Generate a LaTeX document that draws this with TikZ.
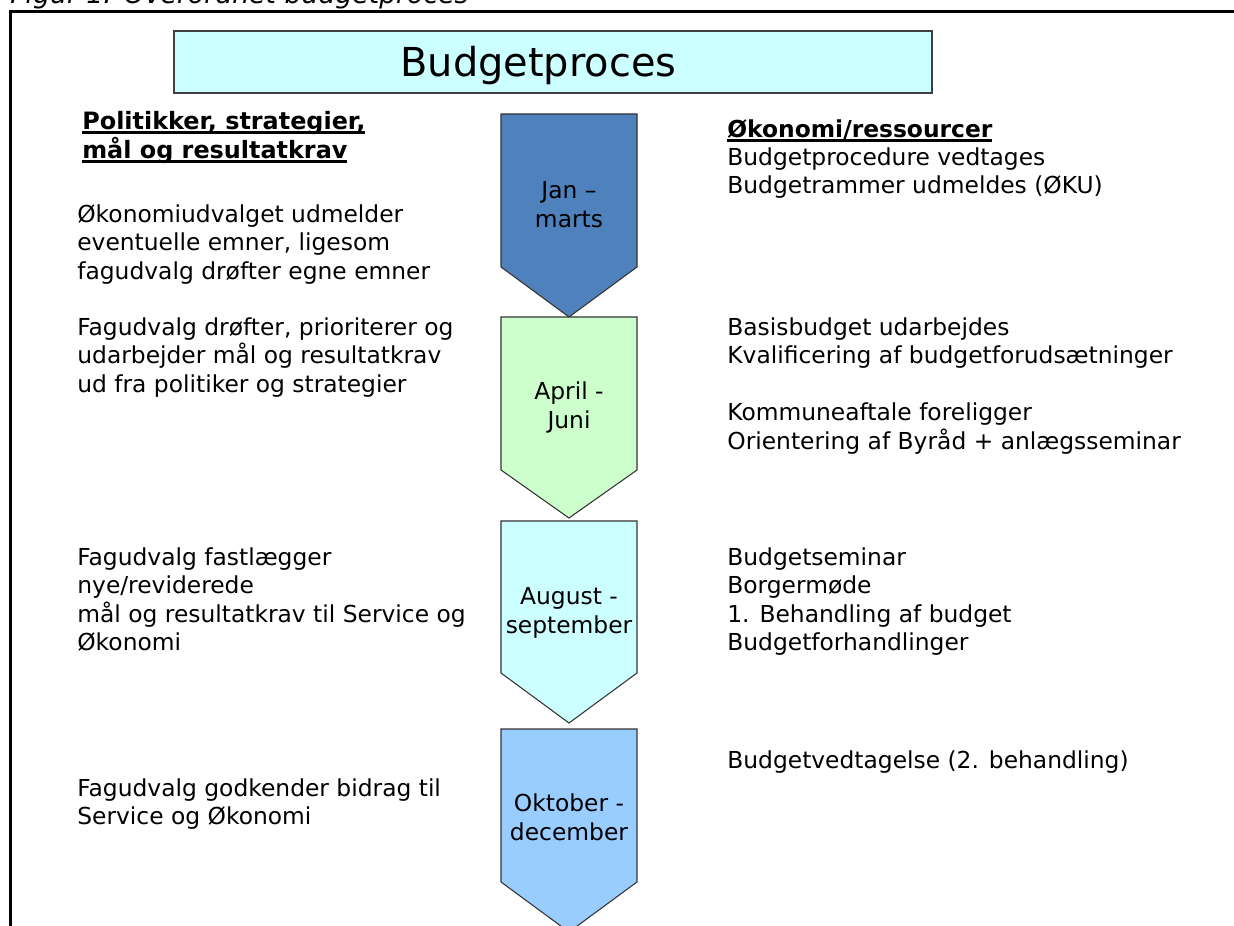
\documentclass[tikz,border=0pt]{standalone}
\usepackage{fontspec}
\setmainfont{DejaVu Sans}
\definecolor{janblue}{HTML}{4F81BD}
\definecolor{aprgreen}{HTML}{CCFFCC}
\definecolor{augcyan}{HTML}{CCFFFF}
\definecolor{oktblue}{HTML}{99CCFF}
\newsavebox\headbox
\newcommand\headul[1]{\sbox\headbox{#1}\rlap{\vrule width\wd\headbox height -1.4pt depth 2.6pt}\usebox\headbox}

\begin{document}
\begin{tikzpicture}[x=0.02cm,y=-0.02cm,
	txt/.style={anchor=base west,inner sep=0pt,align=left,font=\fontsize{13.3}{16.2}\selectfont},
	period/.style={anchor=base,inner sep=0pt,align=center,font=\fontsize{13.3}{16.2}\selectfont},
	chev/.style={draw=black!80,line width=0.6pt}]
	\useasboundingbox (0,0) rectangle (1234,926);
	\clip (0,0) rectangle (1234,926);
	\node[anchor=base west,inner sep=0pt,font=\fontsize{15.2}{18}\selectfont\itshape] (caption) at (10,4) {Figur 1: Overordnet budgetproces};
	\draw[line width=1.2pt] (10.5,926) -- (10.5,11.5) -- (1234,11.5);
	\draw[fill=augcyan,draw=black!75,line width=0.8pt] (174,31) rectangle (932,93);
	\node[anchor=base,inner sep=0pt,font=\fontsize{22.7}{27}\selectfont] (title) at (538.5,76.5) {Budgetproces};
	% chevrons
	\draw[chev,fill=janblue] (501,114) -- (637,114) -- (637,267) -- (569,317) -- (501,267) -- cycle;
	\draw[chev,fill=aprgreen] (501,317) -- (637,317) -- (637,470) -- (569,518) -- (501,470) -- cycle;
	\draw[chev,fill=augcyan] (501,521) -- (637,521) -- (637,673) -- (569,723) -- (501,673) -- cycle;
	\draw[chev,fill=oktblue] (501,729) -- (637,729) -- (637,882) -- (569,932) -- (501,882) -- cycle;
	\node[period] (jan) at (569,227) {Jan --\\marts};
	\node[period] (apr) at (569,428) {April -\\Juni};
	\node[period] (aug) at (569,633) {August -\\september};
	\node[period] (okt) at (569,840) {Oktober -\\december};
	% left column
	\node[txt,font=\fontsize{13.6}{16.5}\selectfont\bfseries] (lhead) at (82,158) {\headul{Politikker, strategier,}\\\headul{mål og resultatkrav}};
	\node[txt] (ltxt1) at (77,279) {Økonomiudvalget udmelder\\eventuelle emner, ligesom\\fagudvalg drøfter egne emner};
	\node[txt] (ltxt2) at (77,392) {Fagudvalg drøfter, prioriterer og\\udarbejder mål og resultatkrav\\ud fra politiker og strategier};
	\node[txt] (ltxt3) at (77,650.5) {Fagudvalg fastlægger\\nye/reviderede\\mål og resultatkrav til Service og\\Økonomi};
	\node[txt] (ltxt4) at (77,824.5) {Fagudvalg godkender bidrag til\\Service og Økonomi};
	% right column
	\node[txt,font=\fontsize{13.3}{16.2}\selectfont\bfseries] (rhead) at (727,137) {\headul{Økonomi/ressourcer}};
	\node[txt] (rtxt1) at (727,193.5) {Budgetprocedure vedtages\\Budgetrammer udmeldes (ØKU)};
	\node[txt] (rtxt2) at (727,363.5) {Basisbudget udarbejdes\\Kvalificering af budgetforudsætninger};
	\node[txt] (rtxt3) at (727,449) {Kommuneaftale foreligger\\Orientering af Byråd + anlægsseminar};
	\node[txt] (rtxt4) at (727,650.5) {Budgetseminar\\Borgermøde\\1. Behandling af budget\\Budgetforhandlinger};
	\node[txt] (rtxt5) at (727,768) {Budgetvedtagelse (2. behandling)};
\end{tikzpicture}
\end{document}
